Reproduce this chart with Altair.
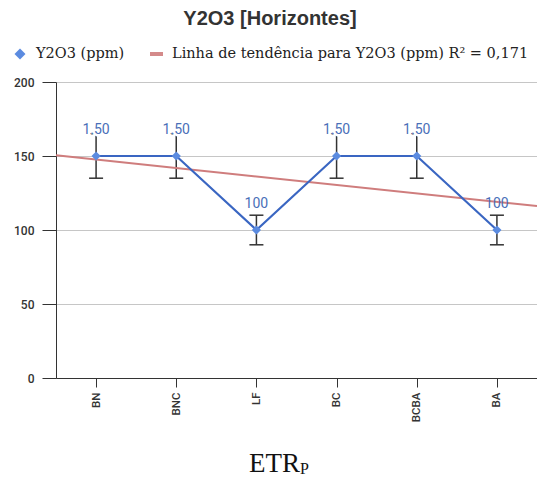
import altair as alt
import pandas as pd

categories = ["BN", "BNC", "LF", "BC", "BCBA", "BA"]
positions = [1, 2, 3, 4, 5, 6]
values = [150, 150, 100, 150, 150, 100]
err_low = [135, 135, 90, 135, 135, 90]
err_high = [165, 165, 110, 165, 165, 110]
point_labels = ["1.50", "1.50", "100", "1.50", "1.50", "100"]

df = pd.DataFrame({
    "cat": categories,
    "idx": positions,
    "val": values,
    "lo": err_low,
    "hi": err_high,
    "lab": point_labels,
})

label_expr = "{" + ",".join(f"'{p}':'{c}'" for p, c in zip(positions, categories)) + "}[datum.value]"

x_enc = alt.X("idx:Q",
              scale=alt.Scale(domain=[0.5, 6.5], nice=False, zero=False),
              axis=alt.Axis(values=positions, labelExpr=label_expr, title=None,
                            grid=False, labelAngle=270, labelFont="Roboto",
                            labelFontSize=11.5, labelColor="#333", labelFontWeight=500,
                            tickSize=9, tickColor="#333", domainColor="#333",
                            labelPadding=5))
y_enc = alt.Y("val:Q",
              scale=alt.Scale(domain=[0, 200], nice=False),
              axis=alt.Axis(values=[0, 50, 100, 150, 200], title=None,
                            gridColor="#c6c6c6", gridWidth=1.2,
                            tickSize=14, tickColor="#333", domainColor="#333",
                            labelFont="Roboto", labelFontSize=12, labelFontWeight=500,
                            labelColor="#333", labelPadding=8))

base = alt.Chart(df)

trend = base.transform_regression("idx", "val", extent=[0.5, 6.5]).mark_line(
    color="#cf7d7d", strokeWidth=2).encode(x=x_enc, y=y_enc)

err_rule = base.mark_rule(color="#333", strokeWidth=1.5).encode(
    x="idx:Q", y="lo:Q", y2="hi:Q")
cap_lo = base.mark_point(shape="M-1,0L1,0", size=196, filled=False,
                         color="#333", strokeWidth=1.5, opacity=1).encode(x="idx:Q", y="lo:Q")
cap_hi = base.mark_point(shape="M-1,0L1,0", size=196, filled=False,
                         color="#333", strokeWidth=1.5, opacity=1).encode(x="idx:Q", y="hi:Q")

line = base.mark_line(color="#3a66c2", strokeWidth=2.2).encode(x="idx:Q", y="val:Q")
pts = base.mark_point(shape="diamond", filled=True, size=85, color="#5b8be0",
                      opacity=1).encode(x="idx:Q", y="val:Q")

halo = base.mark_text(dy=-26, fontSize=14, font="Roboto", color="white",
                      stroke="white", strokeWidth=5).encode(x="idx:Q", y="val:Q", text="lab:N")
labels = base.mark_text(dy=-26, fontSize=14, font="Roboto", color="#4a6fb8").encode(
    x="idx:Q", y="val:Q", text="lab:N")

one = alt.Chart(pd.DataFrame({"a": [0]}))

title = one.mark_text(text="Y2O3 [Horizontes]", fontSize=20, fontWeight="bold",
                      font="Liberation Sans", color="#333", align="center",
                      baseline="middle").encode(x=alt.value(214), y=alt.value(-63))

leg_diamond = one.mark_point(shape="diamond", filled=True, size=120, color="#5b8be0",
                             opacity=1).encode(x=alt.value(-36), y=alt.value(-28))
leg_text1 = one.mark_text(text="Y2O3 (ppm)", fontSize=14.5, font="DejaVu Serif",
                          color="#222", align="left", baseline="middle").encode(
    x=alt.value(-20), y=alt.value(-28))
leg_line = one.mark_rule(color="#d48a8a", strokeWidth=4).encode(
    x=alt.value(94), x2=alt.value(107), y=alt.value(-28))
leg_text2 = one.mark_text(text="Linha de tendência para Y2O3 (ppm) R² = 0,171",
                          fontSize=14.5, font="DejaVu Serif", color="#222",
                          align="left", baseline="middle").encode(
    x=alt.value(116), y=alt.value(-28))

xt1 = one.mark_text(text="ETR", fontSize=27, font="Liberation Serif", color="#111",
                    align="right", baseline="alphabetic").encode(
    x=alt.value(244), y=alt.value(390))
xt2 = one.mark_text(text="P", fontSize=16, font="Liberation Serif", color="#111",
                    align="left", baseline="alphabetic").encode(
    x=alt.value(244), y=alt.value(392))

chart = alt.layer(
    err_rule, cap_lo, cap_hi, halo, trend, line, pts, labels,
    title, leg_diamond, leg_text1, leg_line, leg_text2, xt1, xt2
).properties(
    width=481, height=296,
    autosize=alt.AutoSizeParams(type="none"),
    padding={"left": 56, "top": 82, "right": 0, "bottom": 100},
).configure_view(stroke=None)

chart.save("out.html", embed_options={"renderer": "svg", "actions": False})
